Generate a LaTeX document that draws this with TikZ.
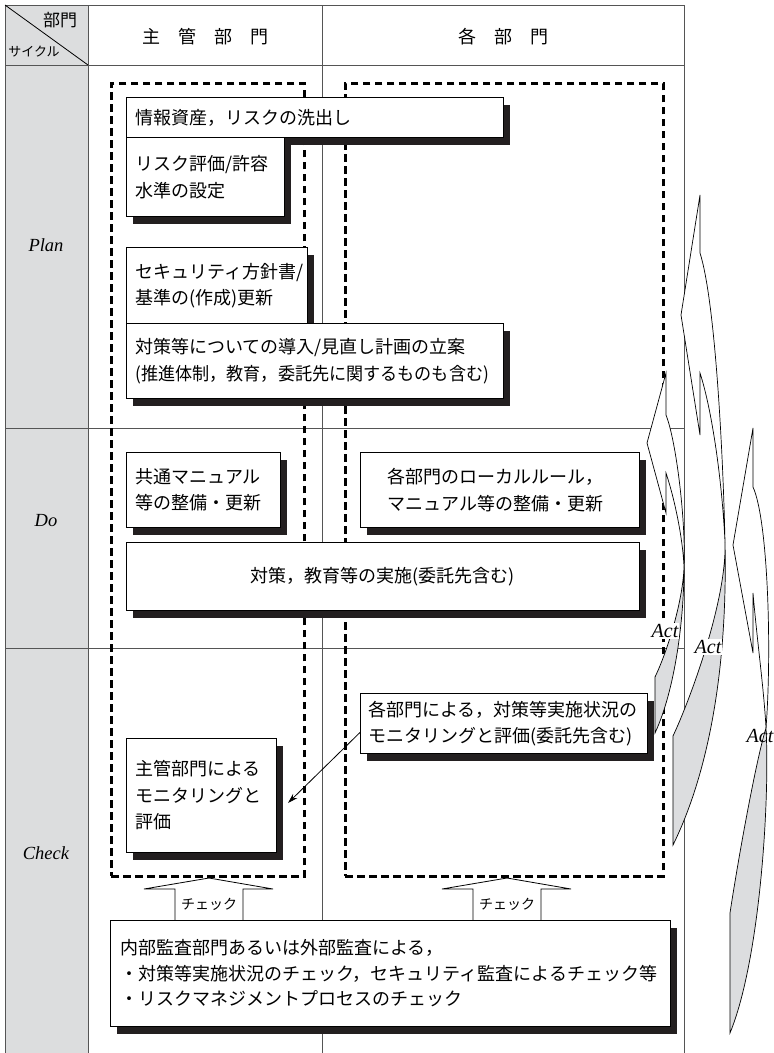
\documentclass[tikz,border=0pt]{standalone}
\usepackage{fontspec}
\usepackage{graphicx}
\setmainfont{Liberation Serif}
\newfontfamily\jp{Noto Sans CJK JP}
\usetikzlibrary{shadows,arrows.meta}
\definecolor{shadowc}{HTML}{231F20}
\definecolor{cellgray}{HTML}{DCDDDE}
\definecolor{linegray}{HTML}{555555}
\definecolor{ribgray}{HTML}{DCDDDF}
\begin{document}
\begin{tikzpicture}[x=1pt,y=-1pt,
  tline/.style={draw=linegray, line width=1pt},
  dbox/.style={draw=black, line width=2.6pt, dash pattern=on 7.5pt off 4.5pt, anchor=north west, inner sep=0pt},
  bx/.style={draw=black, line width=0.9pt, fill=white, anchor=north west, inner xsep=9pt, inner ysep=0pt, align=left,
     font=\jp\fontsize{18pt}{26.5pt}\selectfont,
     drop shadow={opacity=1, fill=shadowc, shadow xshift=7pt, shadow yshift=-8pt}},
  cyc/.style={font=\fontsize{18.5pt}{20pt}\selectfont\itshape},
  act/.style={font=\fontsize{20pt}{22pt}\selectfont\itshape, inner sep=1pt},
  rib/.style={draw=black, line width=0.7pt},
  chk/.style={draw=black, line width=0.8pt, fill=white},
  hd/.style={font=\jp\fontsize{18pt}{20pt}\selectfont},
  sm/.style={font=\jp\fontsize{14pt}{16pt}\selectfont, inner sep=0pt},
]
\useasboundingbox (0,0) rectangle (774,1053);
\fill[white] (0,0) rectangle (774,1053);
% gray cells
\fill[cellgray] (5,5) rectangle (88,1053);
% table lines
\draw[tline] (5,5) -- (684,5);
\draw[tline] (5,65) -- (684,65);
\draw[tline] (5,428) -- (684,428);
\draw[tline] (5,648) -- (684,648);
\draw[tline] (5,5) -- (5,1053);
\draw[tline] (88,5) -- (88,1053);
\draw[tline] (322,5) -- (322,1053);
\draw[tline] (684,5) -- (684,1053);
\draw[line width=0.8pt] (5,5) -- (88,65);
% header texts
\node[hd, font=\jp\fontsize{17pt}{19pt}\selectfont] (hbu) at (60,20) {部門};
\node[sm, font=\jp\fontsize{13pt}{15pt}\selectfont] (hcy) at (34,52) {サイクル};
\node[hd] (h1) at (205,37) {主　管　部　門};
\node[hd] (h2) at (503,37) {各　部　門};
% cycle labels
\node[cyc] (plan) at (46,245) {Plan};
\node[cyc] (do) at (46,521) {Do};
\node[cyc] (check) at (46,853) {Check};
% dashed boxes
\node[dbox, minimum width=193pt, minimum height=793pt] (dl) at (110,82) {};
\node[dbox, minimum width=318pt, minimum height=793pt] (dr) at (344,82) {};
% boxes
\node[bx, minimum width=377pt, minimum height=40pt, text width=359pt] (b1) at (126,97) {情報資産，リスクの洗出し};
\node[bx, minimum width=158pt, minimum height=79pt, text width=140pt] (b2) at (126,137) {リスク評価/許容\\水準の設定};
\node[bx, minimum width=181pt, minimum height=76pt, text width=163pt] (b3) at (126,247) {セキュリティ方針書/\\基準の(作成)更新};
\node[bx, minimum width=377pt, minimum height=75pt, text width=359pt] (b4) at (126,323) {対策等についての導入/見直し計画の立案\\\scalebox{0.95}[1]{(推進体制，教育，委託先に関するものも含む)}};
\node[bx, minimum width=154pt, minimum height=75pt, text width=136pt] (b5) at (126,452) {共通マニュアル\\等の整備・更新};
\node[bx, minimum width=279pt, minimum height=75pt, text width=224pt] (b6) at (360,452) {各部門のローカルルール，\\マニュアル等の整備・更新};
\node[bx, minimum width=513pt, minimum height=68pt, text width=495pt, align=center] (b7) at (126,542) {対策，教育等の実施(委託先含む)};
\node[bx, minimum width=287pt, minimum height=60pt, inner xsep=8pt, text width=271pt] (b8) at (360,693) {各部門による，対策等実施状況の\\モニタリングと評価(委託先含む)};
\node[bx, minimum width=150pt, minimum height=114pt, text width=132pt] (b9) at (126,738) {主管部門による\\モニタリングと\\評価};
% arrow b8 -> b9
\coordinate (ae) at (288,803);
\draw[line width=0.8pt, -{Stealth[length=10pt,width=6pt]}] ([yshift=-9pt]b8.west) -- (ae);
% check block arrows
\draw[chk] (175,921) -- (175,889) -- (144,889) -- (209,878) -- (273,889) -- (243,889) -- (243,921);
\node[sm] (c1) at (209,904) {チェック};
\draw[chk] (473,921) -- (473,889) -- (442,889) -- (507,878) -- (571,889) -- (541,889) -- (541,921);
\node[sm] (c2) at (507,904) {チェック};
\node[bx, minimum width=560pt, minimum height=106pt, inner xsep=10pt, text width=540pt, font=\jp\fontsize{18pt}{25.5pt}\selectfont] (b10) at (110,920) {内部監査部門あるいは外部監査による，\\・対策等実施状況のチェック，セキュリティ監査によるチェック等\\・リスクマネジメントプロセスのチェック};
% Act ribbons
% arrow 3
\filldraw[rib, fill=white] (753,428) -- (753,487) .. controls (768,520) and (772,650) .. (766,728)
   .. controls (764,690) and (757,640) .. (753,593) -- (753,653) -- (733,545) -- cycle;
\filldraw[rib, fill=ribgray] (766,728) .. controls (756,760) and (738,860) .. (730,913) -- (730,1033)
   .. controls (760,960) and (770,800) .. (766,728) -- cycle;
% arrow 2
\filldraw[rib, fill=white] (700,195) -- (700,253) .. controls (715,300) and (723,450) .. (725,542)
   .. controls (722,480) and (712,410) .. (700,373) -- (700,435) -- (681,315) -- cycle;
\filldraw[rib, fill=ribgray] (725,542) .. controls (727,600) and (690,700) .. (673,736) -- (673,845)
   .. controls (705,780) and (728,680) .. (725,542) -- cycle;
% arrow 1
\filldraw[rib, fill=white] (666,373) -- (666,415) .. controls (676,440) and (686,520) .. (684,567)
   .. controls (683,540) and (675,500) .. (666,473) -- (666,513) -- (647,443) -- cycle;
\filldraw[rib, fill=ribgray] (684,567) .. controls (683,600) and (668,650) .. (655,677) -- (655,733)
   .. controls (675,690) and (684,620) .. (684,567) -- cycle;
% Act labels
\node[act, fill=white] (act1) at (665,631) {Act};
\node[act, fill=white] (act2) at (708,647) {Act};
\node[act] (act3) at (760,736) {Act};
\end{tikzpicture}
\end{document}
